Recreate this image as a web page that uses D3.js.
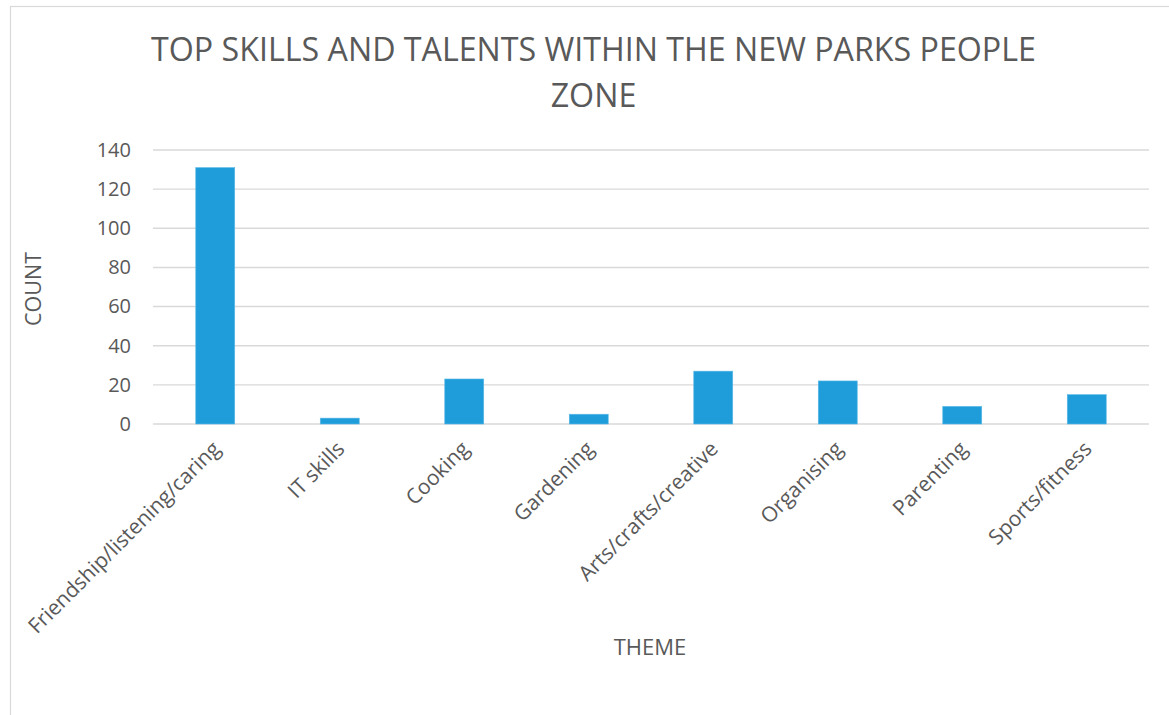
<!DOCTYPE html>
<html>
<head>
<meta charset="utf-8">
<script src="https://cdn.jsdelivr.net/npm/d3@7"></script>
<style>
  html, body { margin: 0; padding: 0; background: #fff; }
  svg { display: block; }
  text { font-family: "Open Sans", "Noto Sans", sans-serif; fill: #595959; }
</style>
</head>
<body>
<svg id="chart" width="1169" height="715"></svg>
<script>
// Skill themes and how many people named each one
const categories = [
  "Friendship/listening/caring",
  "IT skills",
  "Cooking",
  "Gardening",
  "Arts/crafts/creative",
  "Organising",
  "Parenting",
  "Sports/fitness"
];
const counts = [131, 3, 23, 5, 27, 22, 9, 15];
const yTicks = [0, 20, 40, 60, 80, 100, 120, 140];
const titleLines = ["TOP SKILLS AND TALENTS WITHIN THE NEW PARKS PEOPLE", "ZONE"];
const xTitle = "THEME";
const yTitle = "COUNT";

const svg = d3.select("#chart");
const W = 1169, H = 715;
const margin = { left: 153, right: 1169 - 1149, top: 150, bottom: 715 - 424 };
const plotW = W - margin.left - margin.right;
const plotH = H - margin.top - margin.bottom;

// Chart-area frame
svg.append("rect")
  .attr("x", 10.5).attr("y", 6.5)
  .attr("width", W + 20).attr("height", H + 20)
  .attr("fill", "#fff").attr("stroke", "#d9d9d9").attr("stroke-width", 1.2);

const x = d3.scaleBand()
  .domain(categories)
  .range([0, plotW])
  .paddingInner(0.687)
  .paddingOuter(0.687 / 2);

const y = d3.scaleLinear().domain([0, 140]).range([plotH, 0]);

const g = svg.append("g").attr("transform", `translate(${margin.left},${margin.top})`);

// Horizontal gridlines
g.append("g")
  .selectAll("line")
  .data(yTicks)
  .join("line")
  .attr("x1", 0).attr("x2", plotW)
  .attr("y1", d => y(d)).attr("y2", d => y(d))
  .attr("stroke", "#d9d9d9").attr("stroke-width", 1.4);

// Y axis labels
const yAxis = d3.axisLeft(y).tickValues(yTicks).tickSize(0).tickPadding(22);
g.append("g").call(yAxis)
  .call(s => s.select(".domain").remove())
  .selectAll("text")
  .style("font-family", "\"Open Sans\", sans-serif")
  .attr("font-size", 20)
  .attr("fill", "#595959");

// Bars
g.append("g")
  .selectAll("rect")
  .data(counts)
  .join("rect")
  .attr("x", (d, i) => x(categories[i]))
  .attr("y", d => y(d))
  .attr("width", x.bandwidth())
  .attr("height", d => y(0) - y(d))
  .attr("fill", "#1f9dda")
  .attr("stroke", "#5cb9e6")
  .attr("stroke-width", 0.6);

// X axis labels, rotated
const xAxis = d3.axisBottom(x).tickSize(0).tickPadding(0);
const xg = g.append("g").attr("transform", `translate(0,${plotH})`).call(xAxis);
xg.select(".domain").remove();
xg.selectAll("text")
  .style("font-family", "\"Open Sans\", sans-serif")
  .attr("font-size", 21)
  .attr("fill", "#595959")
  .attr("text-anchor", "end")
  .attr("dy", "0.35em")
  .attr("transform", "translate(1,21) rotate(-45)");

// Title
svg.append("text")
  .attr("x", 593).attr("text-anchor", "middle")
  .attr("font-size", 32.2)
  .selectAll("tspan")
  .data(titleLines)
  .join("tspan")
  .attr("x", 593.5)
  .attr("y", (d, i) => 61 + i * 46)
  .text(d => d);

// Axis titles
svg.append("text")
  .attr("x", 650).attr("y", 655)
  .attr("text-anchor", "middle")
  .attr("font-size", 22)
  .text(xTitle);

svg.append("text")
  .attr("transform", "translate(41,289) rotate(-90)")
  .attr("text-anchor", "middle")
  .attr("font-size", 21.5)
  .text(yTitle);
</script>
</body>
</html>
